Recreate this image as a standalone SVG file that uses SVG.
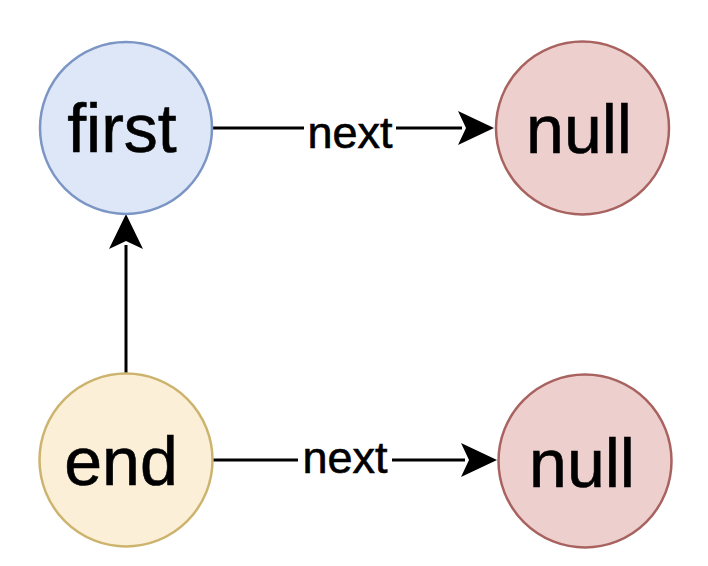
<svg xmlns="http://www.w3.org/2000/svg" width="708" height="566" viewBox="0 0 708 566">
<defs>
<style>
.lbl{font-family:"Liberation Sans",Arial,Helvetica,sans-serif;fill:#000;stroke:#000;stroke-width:0.6;text-anchor:middle}
.big{font-size:68px}
.sm{font-size:45px}
.edge{stroke:#000;stroke-width:3;fill:none}
.blue{fill:#dde7f7;stroke:#7b95c4;stroke-width:2.5}
.yellow{fill:#fbefd7;stroke:#cdb46e;stroke-width:2.5}
.red{fill:#edcfce;stroke:#a8625f;stroke-width:2.5}
</style>
</defs>
<rect width="708" height="566" fill="#fff"/>
<g id="connectors">
<line class="edge" x1="213" y1="128" x2="462" y2="128"/>
<path d="M494,128 L458,111 L466,128 L458,145 Z" fill="#000"/>
<rect x="304" y="112" width="92" height="36" fill="#fff"/>
<text class="lbl sm" x="350" y="148">next</text>
<line class="edge" x1="213" y1="460" x2="465" y2="460"/>
<path d="M497,460 L461,443 L469,460 L461,477 Z" fill="#000"/>
<rect x="298" y="444" width="94" height="36" fill="#fff"/>
<text class="lbl sm" x="345" y="473">next</text>
<line class="edge" x1="126" y1="373" x2="126" y2="245"/>
<path d="M126,214 L109,249 L126,241 L143,249 Z" fill="#000"/>
</g>
<g id="first">
<circle class="blue" cx="126" cy="128" r="86"/>
<text class="lbl big" x="122" y="152">first</text>
</g>
<g id="null1">
<circle class="red" cx="582.5" cy="128" r="86.5"/>
<text class="lbl big" x="579" y="153">null</text>
</g>
<g id="end">
<circle class="yellow" cx="126" cy="460" r="86.5"/>
<text class="lbl big" x="121" y="485">end</text>
</g>
<g id="null2">
<circle class="red" cx="585" cy="461" r="86.5"/>
<text class="lbl big" x="582" y="487">null</text>
</g>
</svg>
